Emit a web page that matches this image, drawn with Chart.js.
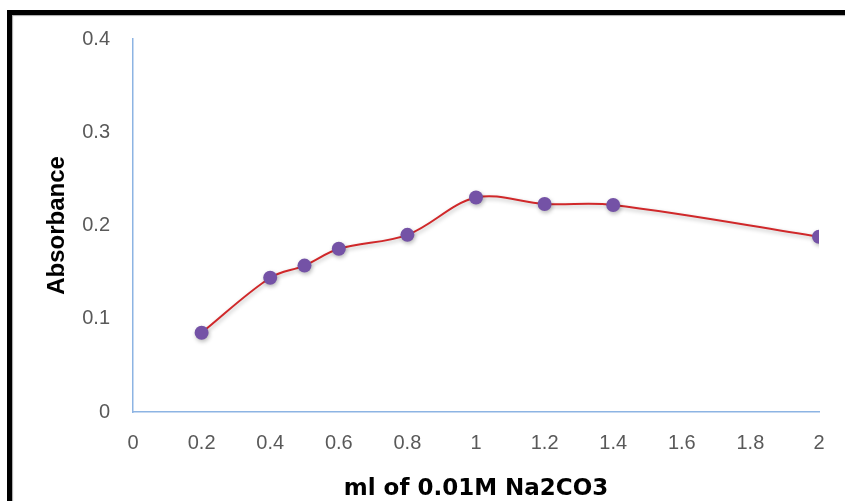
<!DOCTYPE html>
<html>
<head>
<meta charset="utf-8">
<script src="https://cdn.jsdelivr.net/npm/chart.js@4/dist/chart.umd.min.js"></script>
<style>
  html, body { margin: 0; padding: 0; background: #ffffff; }
  #wrap { position: relative; width: 845px; height: 501px; overflow: hidden; }
  #c { position: absolute; left: 0; top: 0; }
  #frame { position: absolute; left: 7px; top: 10px; width: 900px; height: 600px;
           border-left: 5px solid #000; border-top: 5px solid #000; pointer-events: none;
           box-shadow: inset 1px 1px 1px rgba(0,0,0,0.35); }
</style>
</head>
<body>
<div id="wrap">
  <canvas id="c" width="845" height="501"></canvas>
  <div id="frame"></div>
</div>
<script>
// ---- data ----
const volumes = [0.2, 0.4, 0.5, 0.6, 0.8, 1.0, 1.2, 1.4, 2.0];
const absorbance = [0.085, 0.144, 0.157, 0.175, 0.190, 0.230, 0.223, 0.222, 0.188];
const xTickLabels = ['0', '0.2', '0.4', '0.6', '0.8', '1', '1.2', '1.4', '1.6', '1.8', '2'];
const yTickLabels = ['0', '0.1', '0.2', '0.3', '0.4'];
const xTitle = 'ml of 0.01M Na2CO3';
const yTitle = 'Absorbance';

const points = volumes.map((v, i) => ({ x: v, y: absorbance[i] }));

const shadowPlugin = {
  id: 'shadow',
  beforeDatasetsDraw(chart) {
    const ctx = chart.ctx;
    ctx.save();
    ctx.shadowColor = 'rgba(0,0,0,0.28)';
    ctx.shadowBlur = 4;
    ctx.shadowOffsetX = 1;
    ctx.shadowOffsetY = 2;
  },
  afterDatasetsDraw(chart) {
    chart.ctx.restore();
  }
};

new Chart(document.getElementById('c'), {
  type: 'line',
  data: {
    datasets: [{
      data: points,
      borderColor: '#d0282a',
      borderWidth: 2,
      tension: 0.35,
      pointRadius: 7,
      pointHoverRadius: 7,
      pointBackgroundColor: '#7452a6',
      pointBorderColor: '#7452a6',
      pointBorderWidth: 0,
      fill: false
    }]
  },
  options: {
    responsive: false,
    animation: false,
    events: [],
    layout: { padding: { left: 0, top: 39, right: 26, bottom: 0 } },
    plugins: { legend: { display: false }, tooltip: { enabled: false } },
    scales: {
      x: {
        type: 'linear',
        min: 0, max: 2,
        afterFit(scale) { scale.height = 89; },
        grid: { display: false, drawTicks: false },
        border: { display: true, color: '#8db4e3', width: 1.5 },
        ticks: {
          stepSize: 0.2,
          padding: 19,
          color: '#595959',
          font: { family: 'Liberation Sans', size: 20 },
          maxRotation: 0,
          autoSkip: false,
          callback: (v, i) => xTickLabels[i]
        },
        title: {
          display: true,
          text: xTitle,
          color: '#000000',
          padding: { top: 0, bottom: 0 },
          font: { family: 'DejaVu Sans', size: 23, weight: 'bold', lineHeight: 1 }
        }
      },
      y: {
        type: 'linear',
        min: 0, max: 0.4,
        afterFit(scale) { scale.width = 133; },
        grid: { display: false, drawTicks: false },
        border: { display: true, color: '#8db4e3', width: 1.5 },
        ticks: {
          stepSize: 0.1,
          padding: 23,
          color: '#595959',
          font: { family: 'Liberation Sans', size: 20 },
          callback: (v, i) => yTickLabels[i]
        },
        title: {
          display: true,
          text: yTitle,
          color: '#000000',
          padding: { top: 45, bottom: 0 },
          font: { family: 'Liberation Sans', size: 24, weight: 'bold', lineHeight: 1 }
        }
      }
    }
  },
  plugins: [shadowPlugin]
});
</script>
</body>
</html>
